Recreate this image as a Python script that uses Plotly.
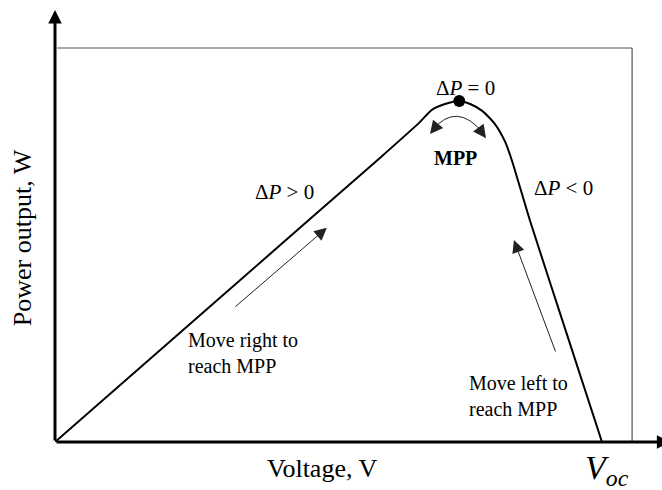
import plotly.graph_objects as go

# P-V curve of a PV module (normalised: Voc = 1, Pmax = 1)
voltage = [0, 0.300, 0.594, 0.667, 0.689, 0.713, 0.739, 0.759, 0.781, 0.804, 0.823, 0.835, 0.868, 0.935, 1.0]
power = [0, 0.421, 0.833, 0.938, 0.974, 0.991, 1.0, 0.991, 0.971, 0.933, 0.880, 0.827, 0.651, 0.320, 0]
mpp_v = [0.739]
mpp_p = [1.0]

FONT = "Liberation Serif, Times New Roman, serif"

fig = go.Figure()
fig.add_trace(go.Scatter(x=voltage, y=power, mode="lines",
                         line=dict(color="black", width=2, shape="spline", smoothing=0.6),
                         hoverinfo="skip", showlegend=False))
fig.add_trace(go.Scatter(x=mpp_v, y=mpp_p, mode="markers",
                         marker=dict(color="black", size=12),
                         hoverinfo="skip", showlegend=False))

# frame lines
fig.add_shape(type="line", x0=0.004, y0=1.155, x1=1.055, y1=1.155,
              line=dict(color="#8a8a8a", width=1.5))
fig.add_shape(type="line", x0=1.055, y0=1.155, x1=1.055, y1=0,
              line=dict(color="#333333", width=1))
# curved MPP arc
fig.add_shape(type="path", path="M 0.690,0.915 Q 0.735,1.0 0.783,0.905",
              line=dict(color="#222222", width=1))

ann = []
# axes with arrows
ann.append(dict(x=0, y=1.267, ax=0, ay=0, xref="x", yref="y", axref="x", ayref="y",
                text="", showarrow=True, arrowhead=2, arrowsize=0.9, arrowwidth=3, arrowcolor="black"))
ann.append(dict(x=1.125, y=0, ax=0, ay=0, xref="x", yref="y", axref="x", ayref="y",
                text="", showarrow=True, arrowhead=2, arrowsize=0.9, arrowwidth=3, arrowcolor="black"))


def arrow(x, y, ax, ay, w=1, s=2.5):
    return dict(x=x, y=y, ax=ax, ay=ay, xref="x", yref="y", axref="x", ayref="y",
                text="", showarrow=True, arrowhead=2, arrowsize=s, arrowwidth=w, arrowcolor="#222222")


ann.append(arrow(0.497, 0.628, 0.327, 0.393))
ann.append(arrow(0.839, 0.592, 0.916, 0.261))
ann.append(arrow(0.6856, 0.903, 0.6965, 0.925, s=2.6))
ann.append(arrow(0.788, 0.891, 0.777, 0.915, s=2.6))


def txt(x, y, t, size=20, xanchor="center", align="center"):
    return dict(x=x, y=y, xref="x", yref="y", text=t, showarrow=False,
                xanchor=xanchor, yanchor="middle", align=align,
                font=dict(family=FONT, size=size, color="black"))


ann.append(txt(0.750, 1.038, "Δ<i>P</i> = 0", 21))
ann.append(txt(0.733, 0.833, "<b>MPP</b>", 20))
ann.append(txt(0.420, 0.733, "Δ<i>P</i> > 0", 21))
ann.append(txt(0.929, 0.745, "Δ<i>P</i> < 0", 21))
ann.append(txt(0.240, 0.261, "Move right to<br>reach MPP", 20, "left", "left"))
ann.append(txt(0.753, 0.135, "Move left to<br>reach MPP", 20, "left", "left"))

ann += [
    dict(x=0.44, y=-0.059, xref="paper", yref="paper", text="Voltage, V", showarrow=False,
         xanchor="center", yanchor="middle", font=dict(family=FONT, size=26, color="black")),
    dict(x=1.009, y=-0.063, xref="x", yref="paper", text="<i>V</i><sub><i>oc</i></sub>", showarrow=False,
         xanchor="center", yanchor="middle", font=dict(family=FONT, size=34, color="black")),
    dict(x=-0.054, y=0.4615, xref="paper", yref="paper", text="Power output, W",
         showarrow=False, textangle=-90, xanchor="center", yanchor="middle",
         font=dict(family=FONT, size=26, color="black")),
]

fig.update_layout(
    width=662, height=490,
    margin=dict(l=55, r=0, t=0, b=48),
    paper_bgcolor="white", plot_bgcolor="white",
    xaxis=dict(range=[0, 1.1097], visible=False, fixedrange=True),
    yaxis=dict(range=[0, 1.296], visible=False, fixedrange=True),
    annotations=ann,
    showlegend=False,
)

fig.write_html("out.html", config={"displayModeBar": False},
               post_script="document.body.style.margin='0';")
